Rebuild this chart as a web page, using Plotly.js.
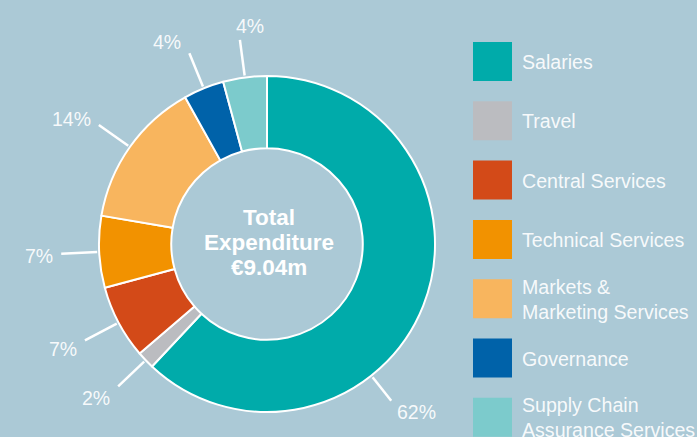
<!DOCTYPE html>
<html>
<head>
<meta charset="utf-8">
<script src="https://cdn.plot.ly/plotly-3.0.1.min.js"></script>
<style>
html,body{margin:0;padding:0;background:#abc9d6;}
#chart{width:697px;height:437px;}
</style>
</head>
<body>
<div id="chart"></div>
<script>
// ---- data ----
var categories = ["Salaries", "Travel", "Central Services", "Technical Services",
  "Markets & Marketing Services", "Governance", "Supply Chain Assurance Services"];
var legendLabels = ["Salaries", "Travel", "Central Services", "Technical Services",
  "Markets &<br>Marketing Services", "Governance", "Supply Chain<br>Assurance Services"];
var shares = [62.0, 1.7, 7.1, 6.9, 14.2, 3.9, 4.2];
var colors = ["#00abaa", "#bbbcc0", "#d34a18", "#f29200", "#f8b55e", "#0062a9", "#7ccbcc"];
var centerLines = ["Total", "Expenditure", "\u20ac9.04m"];

// ---- geometry / style ----
var W = 697, H = 437;
var CX = 267, CY = 244, R = 168;
var BG = "#abc9d6";
var FONT = "Liberation Sans, Arial, Helvetica, sans-serif";
var TXT = "rgba(255,255,255,0.92)";
var labelAngleNudge = {0: 30};  // degrees, style nudge for the big slice label

function px(x){ return x / W; }
function py(y){ return 1 - y / H; }

var total = shares.reduce(function(a,b){return a+b;}, 0);
var annotations = [], shapes = [];

// percentage labels with leader lines
var cum = 0;
shares.forEach(function(v, i){
  var mid = (cum + v/2) / total * 360;
  cum += v;
  var a = (mid + (labelAngleNudge[i] || 0)) * Math.PI / 180;
  var ux = Math.sin(a), uy = -Math.cos(a);
  var lineOut = labelAngleNudge[i] ? 32 : 38;
  var x0 = CX + ux*(R+2), y0 = CY + uy*(R+2);
  var x1 = CX + ux*(R+lineOut), y1 = CY + uy*(R+lineOut);
  shapes.push({type:"line", xref:"paper", yref:"paper",
    x0:px(x0), y0:py(y0), x1:px(x1), y1:py(y1),
    line:{color:"#ffffff", width:2.5}});
  var pct = Math.round(v / total * 100) + "%";
  var xa, tx, ty;
  if (Math.abs(ux) < 0.25) { xa = "center"; tx = x1 + 10; ty = y1 - 14; }
  else if (ux < 0) { xa = "right"; tx = x1 - 6; ty = y1 + (-14*Math.cos(a) + 2); }
  else { xa = "left"; tx = x1 + 4; ty = y1 + (-12*Math.cos(a) + 2); }
  annotations.push({xref:"paper", yref:"paper", x:px(tx), y:py(ty),
    xanchor:xa, yanchor:"middle", showarrow:false, text:pct,
    font:{family:FONT, size:19.5, color:TXT}});
});

// centre text
centerLines.forEach(function(t, i){
  annotations.push({xref:"paper", yref:"paper", x:px(CX+2), y:py(CY - 27 + i*25),
    xanchor:"center", yanchor:"middle", showarrow:false, text:"<b>"+t+"</b>",
    font:{family:FONT, size:22.5, color:"#ffffff"}});
});

// custom legend
legendLabels.forEach(function(t, i){
  var yc = 61.5 + i*59.3;
  shapes.push({type:"rect", xref:"paper", yref:"paper",
    x0:px(473), x1:px(512), y0:py(yc-19.5), y1:py(yc+19.5),
    fillcolor:colors[i], line:{width:0}});
  annotations.push({xref:"paper", yref:"paper", x:px(520), y:py(yc+0.5),
    xanchor:"left", yanchor:"middle", align:"left", showarrow:false, text:t,
    font:{family:FONT, size:19.6, color:TXT}});
});

var trace = {
  type:"pie", labels:categories, values:shares,
  hole:0.57, sort:false, direction:"clockwise", rotation:0,
  marker:{colors:colors, line:{color:"#ffffff", width:2}},
  textinfo:"none", hoverinfo:"label+percent",
  domain:{x:[px(CX-R), px(CX+R)], y:[py(CY+R), py(CY-R)]}
};

var layout = {
  width:W, height:H, margin:{l:0,r:0,t:0,b:0},
  paper_bgcolor:BG, plot_bgcolor:BG, showlegend:false,
  annotations:annotations, shapes:shapes,
  font:{family:FONT}
};

Plotly.newPlot("chart", [trace], layout, {displayModeBar:false, staticPlot:true});
</script>
</body>
</html>
